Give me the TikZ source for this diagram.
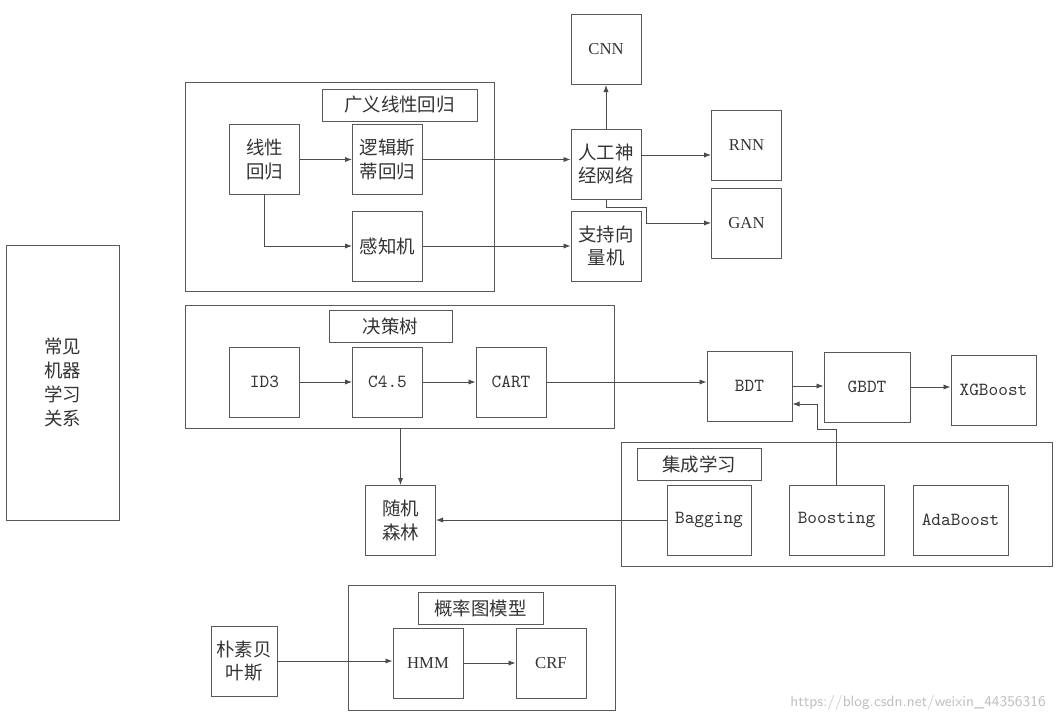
\documentclass[tikz,border=0pt]{standalone}
\usepackage{fontspec}
\setmainfont{Liberation Serif}
\newfontfamily\zh{Noto Sans CJK SC}
\usetikzlibrary{arrows.meta}

\tikzset{
  blk/.style={draw=black!65, line width=0.55pt, inner sep=0pt, align=center,
    minimum width=1.4cm, minimum height=1.4cm, text=black!80,
    font=\zh\fontsize{10.5}{13.5}\selectfont},
  mono/.style={font=\ttfamily\fontsize{10.5}{12}\selectfont},
  rom/.style={font=\rmfamily\fontsize{9.5}{11}\selectfont},
  frame/.style={draw=black!65, line width=0.55pt, inner sep=0pt},
  arr/.style={draw=black!70, line width=0.55pt, -{Latex[length=4pt,width=3pt]}},
}

\begin{document}
\begin{tikzpicture}[x=0.02cm, y=-0.02cm]
      \useasboundingbox (0,0) rectangle (1061,721);
      \node[blk, minimum width=2.26cm, minimum height=5.5cm] (main) at (62.5,382.5) {常见\\机器\\学习\\关系};

      \node[frame, minimum width=6.2cm, minimum height=4.18cm] (glm) at (340,186.5) {};
      \node[blk, minimum width=3.1cm, minimum height=0.64cm] (glmt) at (399.5,105) {广义线性回归};
      \node[blk] (lin) at (264.5,159.5) {线性\\回归};
      \node[blk] (logi) at (387.5,159.5) {逻辑斯\\蒂回归};
      \node[blk] (perc) at (387.5,246) {感知机};
      \node[blk] (ann) at (606,164) {人工神\\经网络};
      \node[blk] (svm) at (606,246) {支持向\\量机};
      \node[blk, rom] (cnn) at (606,49.5) {CNN};
      \node[blk, rom] (rnn) at (746.5,145) {RNN};
      \node[blk, rom] (gan) at (746.5,223) {GAN};
      \coordinate (k1) at (646,207);
      \draw[arr] (lin) -- (logi);
      \draw[arr] (logi.east) -- (logi.east -| ann.west);
      \draw[arr] (lin.south) |- (perc.west);
      \draw[arr] (perc) -- (svm);
      \draw[arr] (ann) -- (cnn);
      \draw[arr] ([yshift=0.18cm]ann.east) -- ([yshift=0.18cm]ann.east -| rnn.west);
      \draw[arr] (ann.south) |- (k1) |- (gan.west);

      \node[frame, minimum width=8.6cm, minimum height=2.46cm] (dt) at (400,366.5) {};
      \node[blk, minimum width=2.46cm, minimum height=0.64cm] (dtt) at (390.5,326) {决策树};
      \node[blk, mono] (id3) at (264.5,382) {ID3};
      \node[blk, mono] (c45) at (387.5,382) {C4.5};
      \node[blk, mono] (cart) at (511,382) {CART};
      \node[blk, mono, minimum width=1.7cm] (bdt) at (749.5,386) {BDT};
      \node[blk, mono, minimum width=1.72cm] (gbdt) at (867,387) {GBDT};
      \node[blk, mono, minimum width=1.7cm] (xgb) at (993.5,390) {XGBoost};
      \node[blk] (rf) at (400.5,520.5) {随机\\森林};
      \draw[arr] (id3) -- (c45);
      \draw[arr] (c45) -- (cart);
      \draw[arr] (cart.east) -- (cart.east -| bdt.west);
      \draw[arr] (bdt.east) -- (bdt.east -| gbdt.west);
      \draw[arr] (gbdt.east) -- (gbdt.east -| xgb.west);
      \draw[arr] (rf.north |- dt.south) -- (rf.north);

      \node[frame, minimum width=8.64cm, minimum height=2.48cm] (ens) at (837,504) {};
      \node[blk, minimum width=2.48cm, minimum height=0.64cm] (enst) at (699,464) {集成学习};
      \node[blk, mono, minimum width=1.68cm] (bag) at (709,520) {Bagging};
      \node[blk, mono, minimum width=1.9cm] (boost) at (836.5,520) {Boosting};
      \node[blk, mono, minimum width=1.9cm] (ada) at (960.5,520) {AdaBoost};
      \coordinate (k2) at (817,429);
      \draw[arr] (boost.north) |- (k2) |- ([yshift=-0.36cm]bdt.east);
      \draw[arr] (bag.west) -- (bag.west -| rf.east);

      \node[frame, minimum width=5.36cm, minimum height=2.5cm] (pgm) at (482,647.5) {};
      \node[blk, minimum width=2.5cm, minimum height=0.64cm] (pgmt) at (480.5,608) {概率图模型};
      \node[blk, minimum width=1.32cm] (nb) at (244,661) {朴素贝\\叶斯};
      \node[blk, rom] (hmm) at (428,663) {HMM};
      \node[blk, rom] (crf) at (551,663) {CRF};
      \draw[arr] (nb.east) -- (nb.east -| hmm.west);
      \draw[arr] (hmm) -- (crf);

      \node[text=black!25, font=\sffamily\fontsize{8.5}{10}\selectfont] (wm) at (918,703) {https://blog.csdn.net/weixin\_44356316};
    \end{tikzpicture}
\end{document}
